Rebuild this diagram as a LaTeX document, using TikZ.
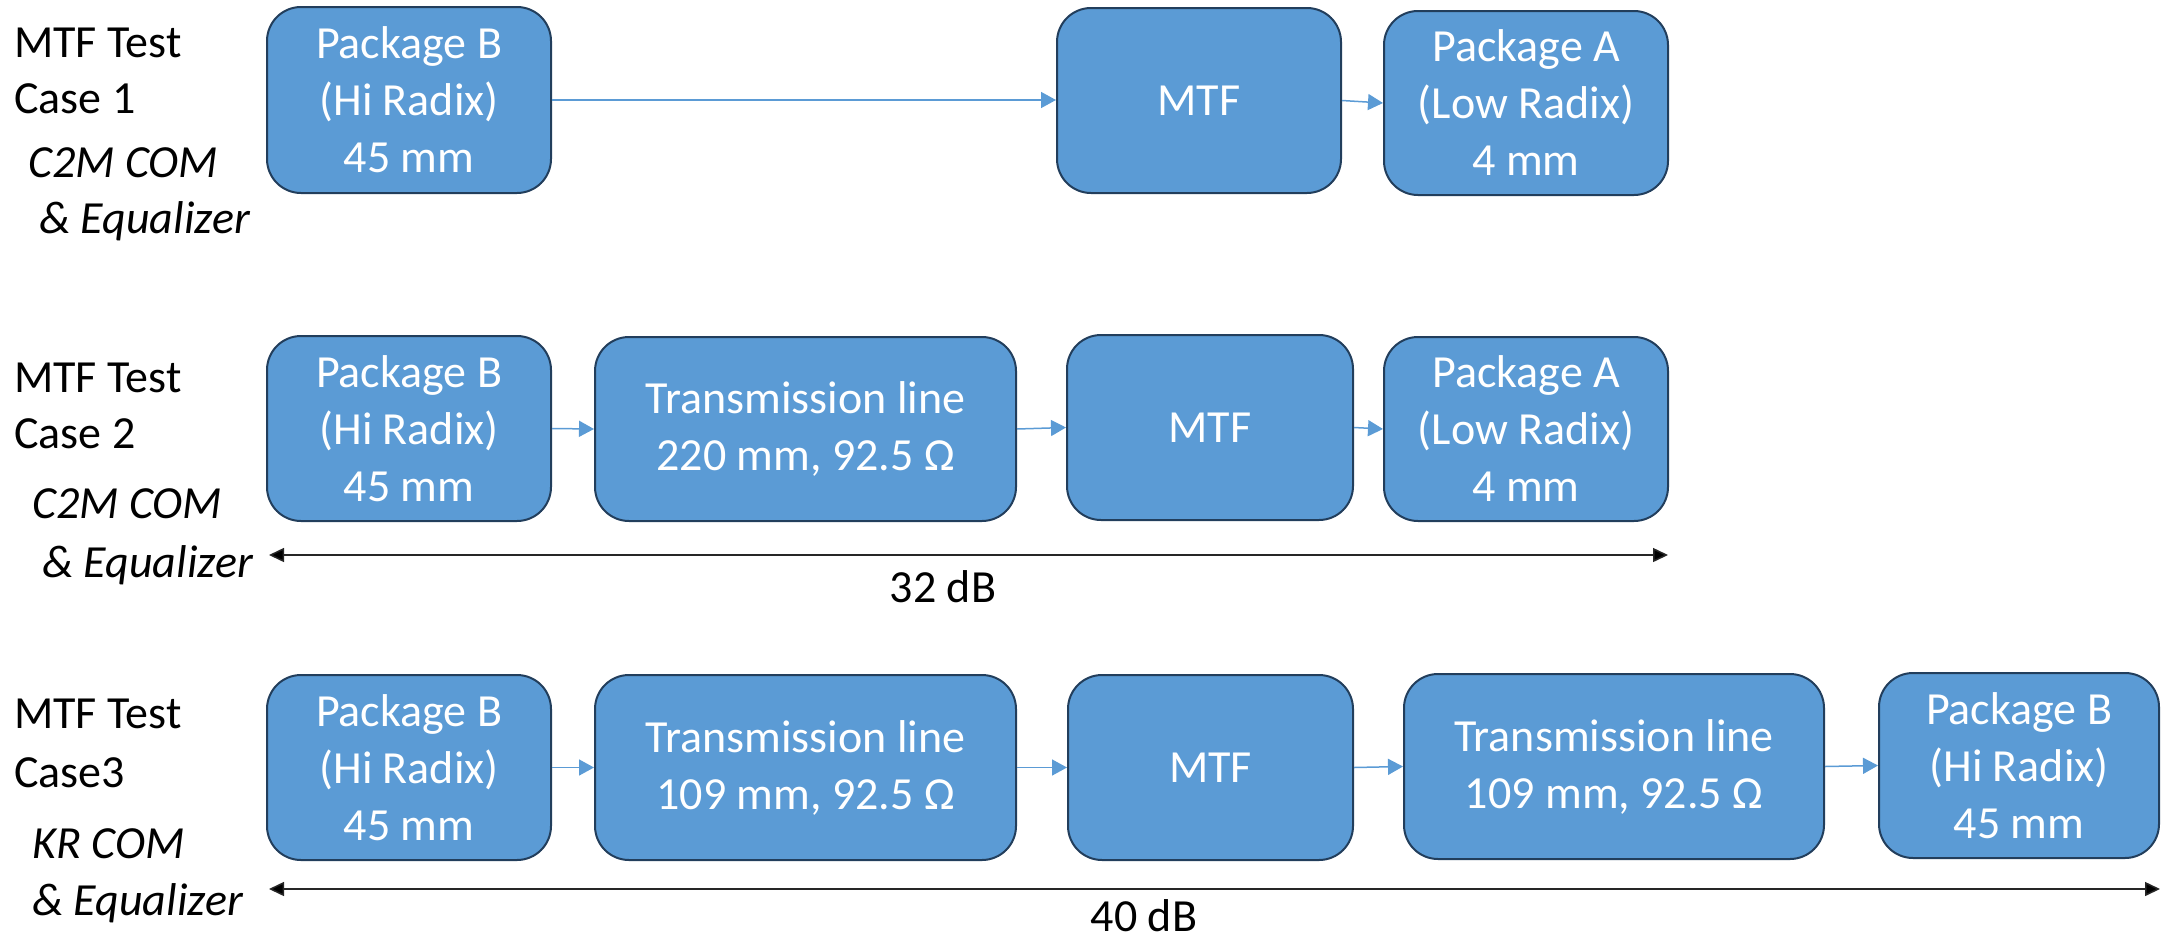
\documentclass[tikz,border=0pt]{standalone}
\usepackage{fontspec}
\setmainfont{Carlito}
\usetikzlibrary{arrows.meta}
\definecolor{boxfill}{HTML}{5B9BD5}
\definecolor{boxline}{HTML}{223E5C}
\tikzset{
  blk/.style={draw=boxline, line width=2pt, fill=boxfill, rounded corners=34pt,
    text=white, align=center, font=\fontsize{46}{57}\selectfont, inner sep=0pt},
  lbl/.style={anchor=base west, inner sep=0pt, font=\fontsize{46}{56}\selectfont},
  ilbl/.style={anchor=base west, inner sep=0pt, font=\fontsize{46}{56}\selectfont\itshape},
  dbl/.style={anchor=base, inner sep=0pt, font=\fontsize{46}{56}\selectfont},
  flow/.style={draw=boxfill, line width=1.5pt, -{Triangle[length=15pt,width=16pt]}},
  span/.style={draw=black!85, line width=1.5pt,
    {Triangle[length=15pt,width=14pt,fill=black]}-{Triangle[length=15pt,width=14pt,fill=black]}},
}
\begin{document}
\begin{tikzpicture}[x=1pt,y=-1pt]
\useasboundingbox (0,0) rectangle (2161,940);

% ---------- Case 1 ----------
\node[lbl]  (l1a) at (14,57)  {MTF Test};
\node[lbl]  (l1b) at (14,113) {Case 1};
\node[ilbl] (l1c) at (28,177) {C2M COM};
\node[ilbl] (l1d) at (39,233) {\& Equalizer};

\node[blk, minimum width=284pt, minimum height=186pt] (c1b) at (409,100) {Package B\\(Hi Radix)\\45 mm};
\node[blk, minimum width=284pt, minimum height=185pt] (c1m) at (1199,100.5) {MTF};
\node[blk, minimum width=284pt, minimum height=184pt] (c1a) at (1526,103) {Package A\\(Low Radix)\\4 mm};
\draw[flow] (c1b.east) -- (c1m.west |- c1b.east);
\draw[flow] (c1m.east) -- (c1a.west);

% ---------- Case 2 ----------
\node[lbl]  (l2a) at (14,392) {MTF Test};
\node[lbl]  (l2b) at (14,448) {Case 2};
\node[ilbl] (l2c) at (32,518) {C2M COM};
\node[ilbl] (l2d) at (42,577) {\& Equalizer};

\node[blk, minimum width=284pt, minimum height=185pt] (c2b) at (409,428.5) {Package B\\(Hi Radix)\\45 mm};
\node[blk, minimum width=421pt, minimum height=184pt] (c2t) at (805.5,429) {Transmission line\\220 mm, 92.5 Ω};
\node[blk, minimum width=286pt, minimum height=185pt] (c2m) at (1210,427.5) {MTF};
\node[blk, minimum width=284pt, minimum height=184pt] (c2a) at (1526,429) {Package A\\(Low Radix)\\4 mm};
\draw[flow] (c2b.east) -- (c2t.west);
\draw[flow] (c2t.east) -- (c2m.west);
\draw[flow] (c2m.east) -- (c2a.west);

\coordinate (s2l) at (269,555);
\coordinate (s2r) at (1668,555);
\draw[span] (s2l) -- (s2r);
\node[dbl] (d2) at (943,602) {32 dB};

% ---------- Case 3 ----------
\node[lbl]  (l3a) at (14,728) {MTF Test};
\node[lbl]  (l3b) at (14,787) {Case3};
\node[ilbl] (l3c) at (32,858) {KR COM};
\node[ilbl] (l3d) at (32,915) {\& Equalizer};

\node[blk, minimum width=284pt, minimum height=185pt] (c3b) at (409,767.5) {Package B\\(Hi Radix)\\45 mm};
\node[blk, minimum width=421pt, minimum height=185pt] (c3t) at (805.5,767.5) {Transmission line\\109 mm, 92.5 Ω};
\node[blk, minimum width=285pt, minimum height=185pt] (c3m) at (1210.5,767.5) {MTF};
\node[blk, minimum width=420pt, minimum height=185pt] (c3u) at (1614,766.5) {Transmission line\\109 mm, 92.5 Ω};
\node[blk, minimum width=280pt, minimum height=185pt] (c3e) at (2019,765.5) {Package B\\(Hi Radix)\\45 mm};
\draw[flow] (c3b.east) -- (c3t.west);
\draw[flow] (c3t.east) -- (c3m.west);
\draw[flow] (c3m.east) -- (c3u.west);
\draw[flow] (c3u.east) -- (c3e.west);

\coordinate (s3l) at (269,889);
\coordinate (s3r) at (2160,889);
\draw[span] (s3l) -- (s3r);
\node[dbl] (d3) at (1144,931) {40 dB};
\end{tikzpicture}
\end{document}
